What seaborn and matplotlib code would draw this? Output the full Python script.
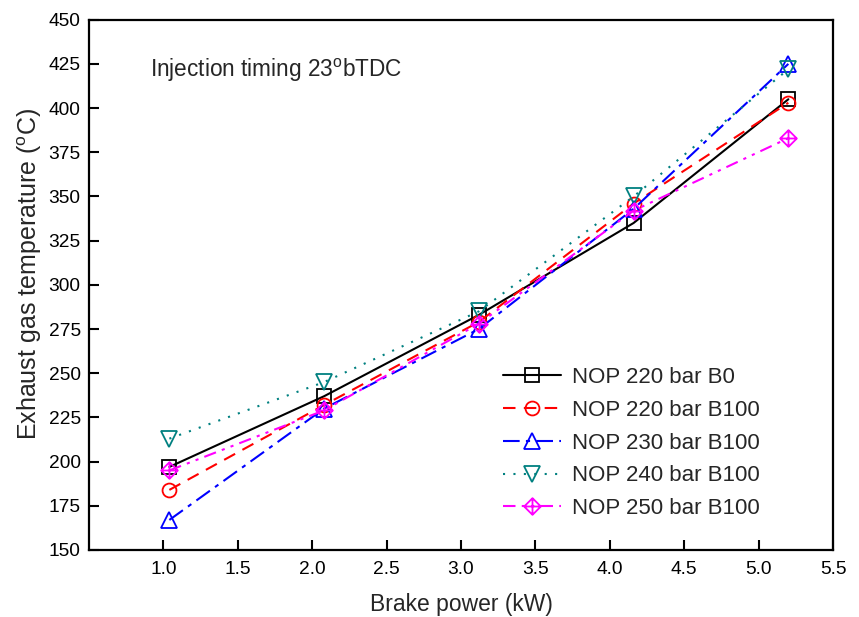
import matplotlib
matplotlib.use("Agg")
import matplotlib.pyplot as plt
import seaborn as sns
import numpy as np
from matplotlib.path import Path

# ---- data ----
brake_power = [1.04, 2.08, 3.12, 4.16, 5.20]
nop220_b0 = [197, 237, 283, 335, 405]
nop220_b100 = [184, 232, 279, 346, 403]
nop230_b100 = [167, 230, 275, 343, 425]
nop240_b100 = [213, 245, 285, 350, 422]
nop250_b100 = [195, 229, 278, 342, 383]
labels = ["NOP 220 bar B0", "NOP 220 bar B100", "NOP 230 bar B100",
          "NOP 240 bar B100", "NOP 250 bar B100"]
x_ticks = [1.0, 1.5, 2.0, 2.5, 3.0, 3.5, 4.0, 4.5, 5.0, 5.5]
y_ticks = [150, 175, 200, 225, 250, 275, 300, 325, 350, 375, 400, 425, 450]

sns.set_style("white")
plt.rcParams["font.family"] = ["Liberation Sans", "DejaVu Sans"]
plt.rcParams["mathtext.fontset"] = "custom"
plt.rcParams["mathtext.rm"] = "Liberation Sans"

# diamond with cross marker
diamond_cross = Path(
    [(0, 1), (1, 0), (0, -1), (-1, 0), (0, 1), (0, 1), (0, -1), (-1, 0), (1, 0)],
    [Path.MOVETO, Path.LINETO, Path.LINETO, Path.LINETO, Path.CLOSEPOLY,
     Path.MOVETO, Path.LINETO, Path.MOVETO, Path.LINETO])

series = [nop220_b0, nop220_b100, nop230_b100, nop240_b100, nop250_b100]
colors = ["#000000", "#FF0000", "#0000FF", "#008080", "#FF00FF"]
styles = ["-", (0, (6, 4)), (0, (8, 3, 2, 3)), (0, (1, 4)), (0, (6, 3, 1.5, 3, 1.5, 3))]
markers = ["s", "o", "^", "v", diamond_cross]
msizes = [10, 10, 11, 11, 12]

fig = plt.figure(figsize=(8.59, 6.17), dpi=100)
ax = fig.add_axes([89/859, 1-550/617, (833-89)/859, (550-19.7)/617])

for ys, c, ls, m, ms, lab in zip(series, colors, styles, markers, msizes, labels):
    sns.lineplot(x=brake_power, y=ys, ax=ax, color=c, linestyle=ls, linewidth=1.5,
                 marker=m, markersize=ms, markerfacecolor="none",
                 markeredgecolor=c, markeredgewidth=1.3, label=lab)

ax.set_xlim(0.5, 5.5)
ax.set_ylim(150, 450)
ax.set_xticks(x_ticks)
ax.set_yticks(y_ticks)
ax.set_xticklabels([f"{v:.1f}" for v in x_ticks])
ax.tick_params(axis="both", direction="in", length=7, width=1.5, labelsize=13.8,
               colors="black", top=False, right=False, bottom=True, left=True)
ax.tick_params(axis="x", pad=8)
ax.tick_params(axis="y", pad=6)
for sp in ax.spines.values():
    sp.set_linewidth(1.6)
    sp.set_color("black")

ax.set_xlabel("Brake power (kW)", fontsize=16.5, labelpad=11)
ax.set_ylabel(r"Exhaust gas temperature ($^{\mathrm{o}}$C)", fontsize=18)
ax.yaxis.set_label_coords(-0.061, 0.52)
ax.text(0.082, 0.905, r"Injection timing 23$^{\mathrm{o}}$bTDC", transform=ax.transAxes,
        fontsize=16.3, va="center", ha="left")

leg = ax.legend(loc="upper left", bbox_to_anchor=(503/859, 1-367/617),
                bbox_transform=fig.transFigure, frameon=False, fontsize=16,
                handlelength=2.6, handletextpad=0.5, labelspacing=0.53,
                borderpad=0, borderaxespad=0, numpoints=1)

fig.savefig("out.png", dpi=100)
